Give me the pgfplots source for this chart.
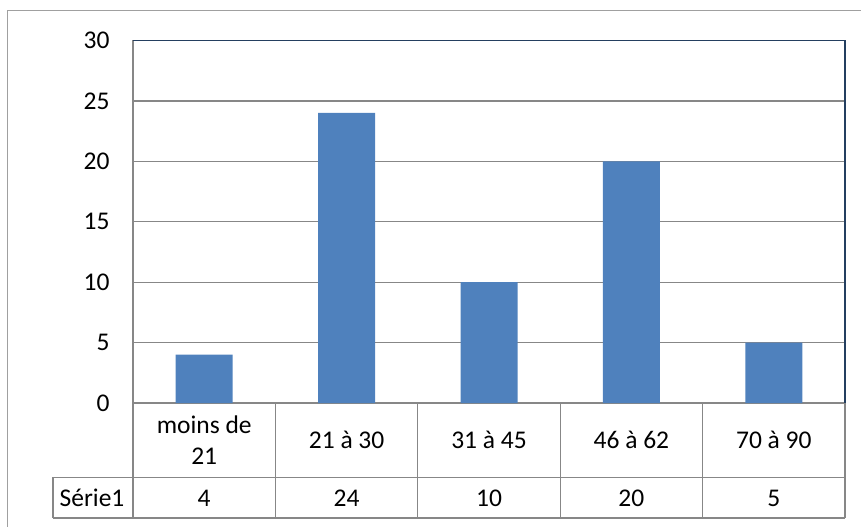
\documentclass[border=0pt]{standalone}
\usepackage{fontspec}
\setmainfont{Carlito}
\usepackage{pgfplots}
\pgfplotsset{compat=1.18}
\definecolor{barblue}{HTML}{4F81BD}
\definecolor{gridgray}{HTML}{878787}
\definecolor{navy}{HTML}{243F60}
\definecolor{boxgray}{HTML}{A0A0A0}
\newcommand{\cfont}{\fontsize{25.5bp}{30.5bp}\selectfont}
\begin{document}
\begin{tikzpicture}
\path[use as bounding box] (0,0) rectangle (861bp,527bp);
\draw[boxgray, line width=1.3bp] (7.5bp,0) -- (7.5bp,516.5bp) -- (861bp,516.5bp);
\begin{axis}[
  at={(133bp,124bp)}, anchor=south west,
  scale only axis, width=712bp, height=362.5bp,
  xmin=-0.5, xmax=4.5, ymin=0, ymax=30,
  ytick={0,5,...,30},
  xtick={0,1,2,3,4},
  xticklabels={{moins de\\21},{21 à 30},{31 à 45},{46 à 62},{70 à 90}},
  xticklabel style={anchor=center, yshift=-37bp, align=center, font=\cfont},
  yticklabel style={anchor=east, xshift=-20bp, font=\cfont},
  /pgf/number format/assume math mode=true,
  major tick length=0pt,
  axis x line*=bottom, axis y line*=left,
  axis line style={gridgray, line width=1.3bp, -},
  ymajorgrids, grid style={gridgray, line width=1.3bp},
  clip=false,
]
\addplot[ybar, bar width=57bp, fill=barblue, draw=none] coordinates {(0,4) (1,24) (2,10) (3,20) (4,5)};
\draw[navy, line width=1.5bp] (rel axis cs:0,1) -- (rel axis cs:1,1) -- (rel axis cs:1,0);
\end{axis}
% data table
\begin{scope}[gridgray, line width=1.3bp]
\draw (53bp,49.5bp) -- (845bp,49.5bp);
\draw (53bp,9bp) -- (845bp,9bp);
\draw (53bp,49.5bp) -- (53bp,9bp);
\foreach \x in {133,275.4,417.8,560.2,702.6,845} {\draw (\x bp,124bp) -- (\x bp,9bp);}
\end{scope}
\node[font=\cfont] at (92bp,29bp) {Série1};
\node[font=\cfont] at (204.2bp,29bp) {4};
\node[font=\cfont] at (346.6bp,29bp) {24};
\node[font=\cfont] at (489bp,29bp) {10};
\node[font=\cfont] at (631.4bp,29bp) {20};
\node[font=\cfont] at (773.8bp,29bp) {5};
\end{tikzpicture}
\end{document}
